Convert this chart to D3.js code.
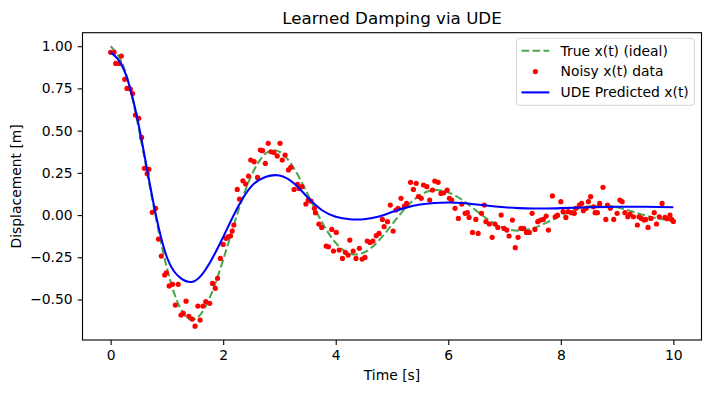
<!DOCTYPE html>
<html>
<head>
<meta charset="utf-8">
<script src="https://cdn.jsdelivr.net/npm/d3@7"></script>
<style>
  body { margin: 0; background: #fff; }
  text { font-family: "DejaVu Sans", sans-serif; }
</style>
</head>
<body>
<div id="chart"></div>
<script>
// values
var trueT = [0, 0.25, 0.5, 0.75, 1.0, 1.25, 1.5, 1.75, 2.0, 2.25, 2.5, 2.75, 3.0, 3.25, 3.5, 3.75,
    4.0, 4.25, 4.5, 4.75, 5.0, 5.25, 5.5, 5.75, 6.0, 6.25, 6.5, 6.75, 7.0, 7.25, 7.5, 7.75,
    8.0, 8.25, 8.5, 8.75, 9.0, 9.25, 9.5, 9.75, 10.0];
var trueX = [1.0, 0.862, 0.512, 0.077, -0.313, -0.56, -0.616, -0.498, -0.265, 0.006, 0.233, 0.363,
    0.375, 0.281, 0.125, -0.039, -0.165, -0.228, -0.222, -0.157, -0.056, 0.045, 0.118, 0.148,
    0.134, 0.089, 0.025, -0.036, -0.078, -0.092, -0.078, -0.045, -0.004, 0.032, 0.052, 0.056,
    0.046, 0.023, -0.002, -0.022, -0.034];

var udeT = [0, 0.25, 0.5, 0.75, 1.0, 1.25, 1.5, 1.75, 2.0, 2.25, 2.5, 2.75, 3.0, 3.25,
    3.5, 3.75, 4.0, 4.25, 4.5, 4.75, 5.0, 5.25, 5.5, 5.75, 6.0, 6.25, 6.5, 6.75, 7.0,
    7.25, 7.5, 7.75, 8.0, 8.5, 9.0, 9.5, 10.0];
var udeX = [0.965, 0.85, 0.53, 0.09, -0.25, -0.375, -0.39, -0.29, -0.13, 0.04, 0.17, 0.226,
    0.234, 0.19, 0.105, 0.03, -0.01, -0.025, -0.025, -0.01, 0.018, 0.044, 0.062,
    0.071, 0.074, 0.071, 0.063, 0.054, 0.046, 0.041, 0.039, 0.039, 0.041, 0.046, 0.049, 0.049, 0.046];

// noisy samples [t, x]
var noisyData = [
    [0.00, 0.964], [0.06, 0.964], [0.09, 0.898], [0.16, 0.898], [0.19, 0.942], [0.25, 0.804],
    [0.29, 0.750], [0.35, 0.746], [0.39, 0.720], [0.44, 0.592], [0.50, 0.573], [0.55, 0.460],
    [0.60, 0.277], [0.65, 0.245], [0.68, 0.271], [0.74, 0.016], [0.80, 0.040], [0.85, -0.142],
    [0.90, -0.243], [0.96, -0.355], [0.99, -0.342], [1.04, -0.420], [1.10, -0.410], [1.15, -0.533],
    [1.20, -0.410], [1.25, -0.592], [1.29, -0.582], [1.34, -0.510], [1.39, -0.600], [1.45, -0.616],
    [1.50, -0.658], [1.55, -0.539], [1.59, -0.622], [1.64, -0.539], [1.69, -0.513], [1.76, -0.523],
    [1.81, -0.405], [1.86, -0.434], [1.90, -0.375], [1.95, -0.257], [2.00, -0.174], [2.05, -0.138],
    [2.09, -0.128], [2.13, -0.124], [2.16, -0.095], [2.19, -0.059], [2.25, 0.152], [2.29, 0.095],
    [2.35, 0.203], [2.40, 0.184], [2.45, 0.231], [2.49, 0.326], [2.55, 0.316], [2.61, 0.223],
    [2.66, 0.385], [2.70, 0.381], [2.75, 0.306], [2.80, 0.425], [2.85, 0.375], [2.90, 0.371],
    [2.96, 0.350], [3.01, 0.425], [3.05, 0.326], [3.10, 0.355], [3.16, 0.267], [3.20, 0.282],
    [3.26, 0.152], [3.32, 0.182], [3.35, 0.158], [3.40, 0.168], [3.47, 0.065], [3.51, 0.089],
    [3.56, 0.083], [3.62, 0.040], [3.64, 0.014], [3.70, -0.053], [3.75, -0.073], [3.83, -0.184],
    [3.87, -0.188], [3.93, -0.085], [3.96, -0.213], [4.01, -0.103], [4.06, -0.207], [4.12, -0.257],
    [4.17, -0.221], [4.22, -0.237], [4.25, -0.148], [4.31, -0.213], [4.36, -0.257], [4.42, -0.197],
    [4.47, -0.261], [4.52, -0.251], [4.56, -0.154], [4.61, -0.162], [4.66, -0.154], [4.72, -0.122],
    [4.77, -0.109], [4.83, -0.026], [4.86, -0.069], [4.92, -0.039], [4.97, 0.059], [5.02, -0.095],
    [5.07, 0.030], [5.11, 0.040], [5.16, 0.099], [5.22, 0.053], [5.26, 0.069], [5.33, 0.194],
    [5.38, 0.152], [5.43, 0.188], [5.47, 0.110], [5.52, 0.099], [5.56, 0.178], [5.62, 0.168],
    [5.67, 0.089], [5.72, 0.148], [5.76, 0.201], [5.82, 0.194], [5.87, 0.128], [5.92, 0.132],
    [5.98, 0.148], [6.02, 0.099], [6.06, 0.089], [6.12, 0.040], [6.18, -0.020], [6.24, 0.065],
    [6.30, 0.010], [6.34, 0.014], [6.37, -0.014], [6.43, -0.103], [6.49, -0.026], [6.53, -0.109],
    [6.59, 0.010], [6.64, 0.059], [6.67, -0.039], [6.73, -0.053], [6.78, -0.132], [6.83, -0.053],
    [6.88, -0.073], [6.94, 0.000], [6.99, -0.079], [7.04, -0.089], [7.08, -0.124], [7.14, -0.030],
    [7.19, -0.193], [7.24, -0.132], [7.29, -0.079], [7.34, -0.079], [7.39, -0.103], [7.44, -0.103],
    [7.49, 0.010], [7.54, -0.085], [7.59, -0.039], [7.64, -0.030], [7.69, -0.026], [7.74, -0.006],
    [7.78, -0.089], [7.85, 0.113], [7.90, -0.010], [7.94, 0.000], [8.00, 0.079], [8.04, 0.020],
    [8.09, -0.014], [8.13, 0.020], [8.19, 0.014], [8.24, 0.010], [8.27, 0.040], [8.33, 0.059],
    [8.37, 0.069], [8.40, 0.026], [8.45, 0.040], [8.49, 0.079], [8.53, 0.109], [8.58, 0.049],
    [8.61, 0.014], [8.65, 0.014], [8.69, 0.069], [8.75, 0.164], [8.80, -0.026], [8.83, 0.059],
    [8.88, 0.040], [8.94, -0.026], [9.00, 0.010], [9.05, 0.089], [9.09, 0.079], [9.14, 0.014],
    [9.19, -0.010], [9.23, 0.006], [9.29, -0.010], [9.36, -0.059], [9.39, -0.010], [9.43, -0.020],
    [9.48, -0.030], [9.51, -0.026], [9.55, -0.073], [9.60, -0.020], [9.66, 0.014], [9.70, -0.053],
    [9.75, -0.010], [9.80, 0.069], [9.85, -0.014], [9.89, -0.022], [9.94, 0.000], [9.97, -0.026],
    [10.00, -0.038]
];

var xTicks = [0, 2, 4, 6, 8, 10];
var yTicks = [-0.5, -0.25, 0, 0.25, 0.5, 0.75, 1.0];
var legendLabels = ["True x(t) (ideal)", "Noisy x(t) data", "UDE Predicted x(t)"];

var W = 711, H = 393;
// plot area (note: "top" is reserved on window, so use other names)
var pL = 82.5, pR = 701.5, pT = 32.7, pB = 340;
var fs = 13.9;

var svg = d3.select("#chart").append("svg")
    .attr("width", W)
    .attr("height", H);

svg.append("rect").attr("width", W).attr("height", H).attr("fill", "#fff");

var x = d3.scaleLinear().domain([-0.5, 10.5]).range([pL, pR]);
var y = d3.scaleLinear().domain([-0.74, 1.08]).range([pB, pT]);

// axes
var xAxis = svg.append("g")
    .attr("transform", "translate(0," + pB + ")")
    .call(d3.axisBottom(x).tickValues(xTicks).tickSize(4.9).tickPadding(5.5).tickFormat(d3.format("d")));
var yAxis = svg.append("g")
    .attr("transform", "translate(" + pL + ",0)")
    .call(d3.axisLeft(y).tickValues(yTicks).tickSize(4.9).tickPadding(4.9).tickFormat(d3.format(".2f")));

[xAxis, yAxis].forEach(function (g) {
    g.select(".domain").remove();
    g.selectAll(".tick line").attr("stroke", "#000").attr("stroke-width", 1.1);
    g.selectAll(".tick text").attr("fill", "#000").style("font-size", fs + "px")
        .style("font-family", "DejaVu Sans");
});

// smooth line through the read samples
var line = d3.line()
    .x(function (d) { return x(d[0]); })
    .y(function (d) { return y(d[1]); })
    .curve(d3.curveNatural);

var truePts = trueT.map(function (t, i) { return [t, trueX[i]]; });
var udePts = udeT.map(function (t, i) { return [t, udeX[i]]; });

// true curve
svg.append("path")
    .datum(truePts)
    .attr("d", line)
    .attr("fill", "none")
    .attr("stroke", "green")
    .attr("stroke-opacity", 0.7)
    .attr("stroke-width", 2.08)
    .attr("stroke-dasharray", "7.7,3.3");

// noisy points
svg.append("g")
    .selectAll("circle")
    .data(noisyData)
    .enter()
    .append("circle")
    .attr("cx", function (d) { return x(d[0]); })
    .attr("cy", function (d) { return y(d[1]); })
    .attr("r", 2.6)
    .attr("fill", "red");

// UDE prediction
svg.append("path")
    .datum(udePts)
    .attr("d", line)
    .attr("fill", "none")
    .attr("stroke", "blue")
    .attr("stroke-width", 2.08);

// frame
svg.append("rect")
    .attr("x", pL).attr("y", pT)
    .attr("width", pR - pL).attr("height", pB - pT)
    .attr("fill", "none").attr("stroke", "#000").attr("stroke-width", 1.1);

// title and labels
svg.append("text")
    .attr("x", (pL + pR) / 2).attr("y", 24.4)
    .attr("text-anchor", "middle")
    .style("font-size", "16.7px")
    .text("Learned Damping via UDE");

svg.append("text")
    .attr("x", (pL + pR) / 2).attr("y", 380)
    .attr("text-anchor", "middle")
    .style("font-size", fs + "px")
    .text("Time [s]");

svg.append("text")
    .attr("transform", "translate(21," + (pT + pB) / 2 + ") rotate(-90)")
    .attr("text-anchor", "middle")
    .style("font-size", fs + "px")
    .text("Displacement [m]");

// legend
var lg = svg.append("g");
var box = lg.append("rect")
    .attr("x", 516.5).attr("y", 38.3)
    .attr("height", 67)
    .attr("rx", 3)
    .attr("fill", "#fff").attr("fill-opacity", 0.8)
    .attr("stroke", "#cccccc").attr("stroke-opacity", 0.8);

var rowY = [50.8, 71.6, 92.4];
var maxW = 0;
legendLabels.forEach(function (lab, i) {
    var yy = rowY[i];
    if (i == 0) {
        lg.append("line").attr("x1", 521.5).attr("x2", 549.3).attr("y1", yy).attr("y2", yy)
            .attr("stroke", "green").attr("stroke-opacity", 0.7).attr("stroke-width", 2.08)
            .attr("stroke-dasharray", "7.7,3.3");
    } else if (i == 1) {
        lg.append("circle").attr("cx", 535.4).attr("cy", yy).attr("r", 2.6).attr("fill", "red");
    } else {
        lg.append("line").attr("x1", 521.5).attr("x2", 549.3).attr("y1", yy).attr("y2", yy)
            .attr("stroke", "blue").attr("stroke-width", 2.08);
    }
    var t = lg.append("text")
        .attr("x", 560.6).attr("y", yy + 4.8)
        .style("font-size", fs + "px")
        .attr("fill", "#000")
        .text(lab);
    maxW = Math.max(maxW, t.node().getComputedTextLength());
});
box.attr("width", 560.6 + maxW + 5.6 - 516.5);
</script>
</body>
</html>
